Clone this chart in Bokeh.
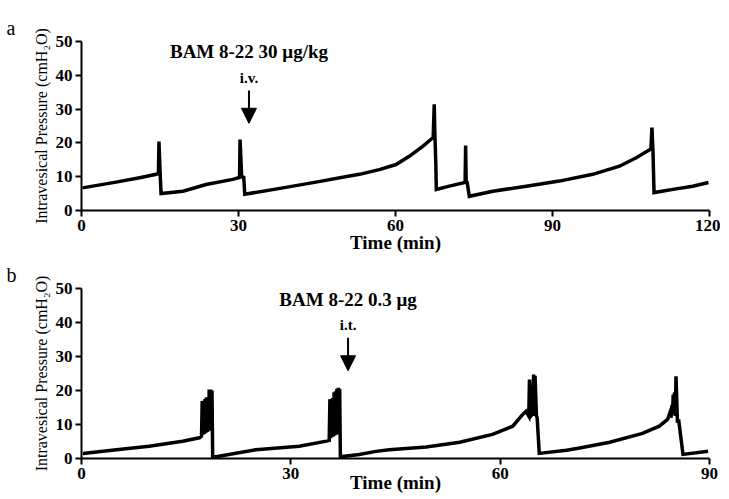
from bokeh.plotting import figure
from bokeh.layouts import column
from bokeh.models import Range1d, Label, Arrow, NormalHead, FixedTicker
from bokeh.embed import file_html
from bokeh.resources import INLINE

# ---- Panel a: BAM 8-22 30 ug/kg i.v. (time in min, pressure in cmH2O)
a_time = [0.2, 6.6, 11.1, 14.3, 14.7, 14.8, 15.0, 15.2, 19.4, 23.8, 28.9, 30.2,
          30.3, 30.6, 31.0, 31.2, 38.5, 44.8, 51.2, 53.1, 56.9, 60.1, 62.7, 65.2,
          67.2, 67.4, 67.5, 67.7, 67.8, 70.3, 73.3, 73.4, 73.5, 73.7, 74.1, 78.6,
          85.0, 91.3, 97.7, 102.8, 106.0, 108.8, 109.0, 109.2, 109.4, 113.6, 116.8, 119.8]
a_press = [6.7, 8.4, 9.7, 10.7, 11.0, 20.4, 12.0, 5.0, 5.7, 7.7, 9.2, 9.8,
           21.0, 10.0, 9.8, 4.8, 6.7, 8.4, 10.2, 10.7, 12.1, 13.6, 16.1, 19.0,
           21.6, 31.4, 24.0, 14.0, 6.2, 7.2, 8.3, 19.2, 8.5, 8.3, 4.2, 5.7,
           7.2, 8.7, 10.7, 13.1, 15.6, 18.2, 24.5, 17.5, 5.3, 6.4, 7.2, 8.3]
a_xticks = [0, 30, 60, 90, 120]

# ---- Panel b: BAM 8-22 0.3 ug i.t.
b_time = [0.2, 5.0, 9.7, 14.5, 16.9, 17.2, 17.3, 17.4, 17.5, 17.6, 17.7, 17.8,
          17.9, 18.0, 18.1, 18.2, 18.3, 18.4, 18.5, 18.6, 18.7, 18.8, 19.3, 25.0,
          31.2, 35.1, 35.5, 35.6, 35.7, 35.8, 35.9, 36.0, 36.1, 36.2, 36.3, 36.4,
          36.5, 36.6, 36.7, 36.8, 36.9, 37.0, 37.1, 39.8, 42.2, 44.1, 49.4, 54.2,
          58.9, 61.8, 63.2, 63.7, 64.1, 64.2, 64.4, 64.6, 64.8, 64.9, 65.0, 65.2,
          65.3, 65.6, 69.5, 71.4, 75.7, 80.4, 82.8, 84.0, 84.4, 84.5, 84.6, 84.7,
          84.8, 84.9, 85.0, 85.1, 85.2, 85.4, 85.6, 86.2, 89.8]
b_press = [1.5, 2.6, 3.6, 5.1, 6.1, 6.6, 16.9, 7.0, 17.0, 7.2, 17.5, 7.5,
           18.0, 7.8, 18.0, 8.0, 20.3, 8.3, 20.3, 8.5, 20.0, 0.6, 0.5, 2.6,
           3.6, 5.1, 5.3, 17.4, 6.0, 17.5, 6.3, 17.8, 6.5, 19.5, 6.8, 19.8,
           7.0, 20.5, 7.2, 20.8, 7.5, 20.5, 0.5, 1.2, 2.1, 2.6, 3.4, 4.8,
           7.1, 9.5, 12.9, 13.9, 12.5, 23.2, 12.5, 13.0, 24.7, 12.5, 24.3, 12.5,
           12.0, 1.5, 2.4, 3.1, 4.8, 7.4, 9.5, 11.5, 13.9, 12.0, 15.5, 13.0,
           18.8, 14.0, 19.5, 12.5, 24.2, 11.0, 11.0, 1.2, 2.1]
b_xticks = [0, 30, 60, 90]

y_ticks = [0, 10, 20, 30, 40, 50]

SERIF = "Liberation Serif"
LEFT = 81


def panel(xmax, xticks, t, pr, top, bottom, fh, title, arrow_t, letter,
          lab_std, route):
    p = figure(frame_width=628, frame_height=fh,
               x_range=Range1d(0, xmax), y_range=Range1d(0, 50),
               output_backend="svg", toolbar_location=None,
               min_border_left=LEFT, min_border_right=11,
               min_border_top=top, min_border_bottom=bottom,
               title=letter)
    p.title.align = "left"
    p.title.offset = -75
    p.title.text_font = SERIF
    p.title.text_font_style = "normal"
    p.title.text_font_size = "20px"
    p.title.text_color = "black"
    p.title.standoff = 6
    p.grid.visible = False
    p.outline_line_color = None
    p.background_fill_color = "white"
    p.border_fill_color = "white"

    for ax in (p.xaxis[0], p.yaxis[0]):
        ax.axis_line_width = 2
        ax.axis_line_color = "black"
        ax.major_tick_line_width = 2
        ax.major_tick_in = 0
        ax.major_tick_out = 6
        ax.minor_tick_line_color = None
        ax.major_label_text_font = SERIF
        ax.major_label_text_font_style = "bold"
        ax.major_label_text_font_size = "17px"
        ax.major_label_text_color = "black"
        ax.axis_label_text_color = "black"
        ax.axis_label_text_font = SERIF

    p.xaxis.ticker = FixedTicker(ticks=xticks)
    p.yaxis.ticker = FixedTicker(ticks=y_ticks)
    p.xaxis.major_label_standoff = 3
    p.yaxis.major_label_standoff = 3
    p.xaxis.axis_label = "Time (min)"
    p.xaxis.axis_label_text_font_style = "bold"
    p.xaxis.axis_label_text_font_size = "19px"
    p.xaxis.axis_label_standoff = lab_std
    p.yaxis.axis_label = "Intravesical Pressure (cmH\u2082O)"
    p.yaxis.axis_label_text_font_style = "normal"
    p.yaxis.axis_label_text_font_size = "16px"
    p.yaxis.axis_label_standoff = 3

    p.line(t, pr, line_width=3.5, line_color="black", line_join="miter")

    p.add_layout(Label(x=arrow_t, y=43.8, text=title, text_align="center",
                       text_font=SERIF, text_font_style="bold",
                       text_font_size="19px", text_color="black"))
    p.add_layout(Label(x=arrow_t, y=36.8, text=route,
                       text_align="center", text_font=SERIF,
                       text_font_style="bold", text_font_size="15px",
                       text_color="black"))
    p.add_layout(Arrow(end=NormalHead(size=15, fill_color="black",
                                      line_color="black"),
                       x_start=arrow_t, y_start=35.5, x_end=arrow_t, y_end=25.8,
                       line_width=2, line_color="black"))
    return p


pa = panel(120, a_xticks, a_time, a_press, 41, 46, 169,
           "BAM 8-22 30 \u03bcg/kg", 32.0, "a", -2, "i.v.")
pb = panel(90, b_xticks, b_time, b_press, 32, 33, 170,
           "BAM 8-22 0.3 \u03bcg", 38.2, "b", -10, "i.t.")

layout = column(pa, pb, spacing=0)
open("out.html", "w").write(file_html(layout, INLINE))
